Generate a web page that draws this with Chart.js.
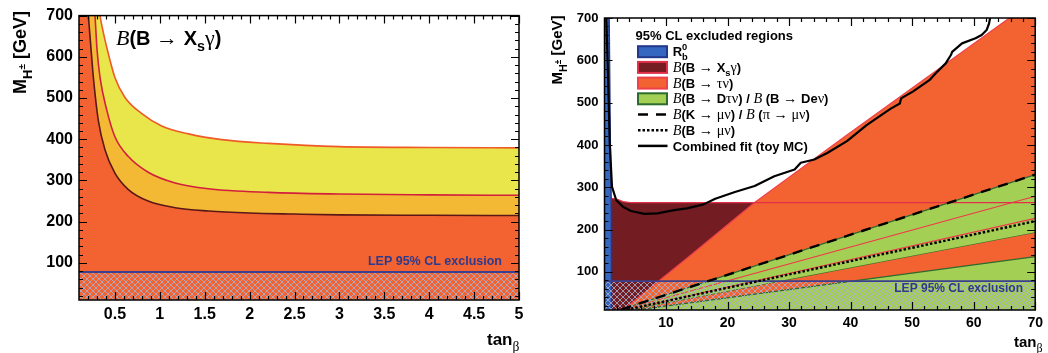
<!DOCTYPE html>
<html>
<head>
<meta charset="utf-8">
<script src="https://cdn.jsdelivr.net/npm/chart.js@4.4.1/dist/chart.umd.min.js"></script>
<style>
  html, body { margin: 0; padding: 0; background: #fff; }
  #wrap { position: relative; width: 1048px; height: 353px; overflow: hidden; }
  #left { position: absolute; left: 0; top: 0; }
  #right { position: absolute; left: 530px; top: 0; }
</style>
</head>
<body>
<div id="wrap">
  <canvas id="left" width="530" height="353"></canvas>
  <canvas id="right" width="518" height="353"></canvas>
</div>
<script>
// ---- left panel: B -> Xs gamma bands vs tan(beta) ----
const leftXTicks = [0.5, 1, 1.5, 2, 2.5, 3, 3.5, 4, 4.5, 5];
const leftXLabels = ["0.5", "1", "1.5", "2", "2.5", "3", "3.5", "4", "4.5", "5"];
const yTicks = [100, 200, 300, 400, 500, 600, 700];
const yLabels = ["100", "200", "300", "400", "500", "600", "700"];

const bandTopTb = [0.1, 0.3, 0.334, 0.37, 0.41, 0.5, 0.61, 0.8, 1.02, 1.32, 1.69, 2.21, 3, 4, 5];
const bandTopM = [800, 760, 700, 660, 622, 550, 502, 462, 432, 413, 399, 390, 382, 380, 379];
const bandMidTb = [0.1, 0.26, 0.278, 0.3, 0.334, 0.41, 0.5, 0.65, 0.87, 1.17, 1.54, 2.21, 3, 4, 5];
const bandMidM = [800, 740, 700, 620, 550, 470, 406, 358, 320, 294, 280, 271, 267, 265, 264];
const bandLowTb = [0.1, 0.19, 0.204, 0.23, 0.26, 0.315, 0.39, 0.5, 0.65, 0.87, 1.17, 1.54, 2, 2.5, 3, 4, 5];
const bandLowM = [800, 740, 700, 630, 550, 446, 374, 318, 278, 250, 234, 226, 221, 218.5, 216.5, 215.5, 215];

const lepLimit = 78;

// ---- right panel: combined exclusion regions ----
const rightXTicks = [10, 20, 30, 40, 50, 60, 70];
const rightXLabels = ["10", "20", "30", "40", "50", "60", "70"];

const rbTb = [0, 0.75, 0.95, 1.1, 1.15];
const rbM = [700, 700, 400, 250, 10];
const xsgTb = [1.1, 2, 3, 4.5, 70];
const xsgM = [274, 272, 266, 263.5, 263.5];
const taunuTb = [3.0, 13.7, 24.4, 39.4, 65.8, 70];
const taunuM = [10, 136, 264, 423.5, 700, 700];

// straight bands, given as M at tan(beta) = 0 and 70
const lineTb = [0, 70];
const kmunuM = [-1.5, 330];
const taunuInnerHiM = [-1, 279];
const taunuInnerLoM = [-1, 226.5];
const bmunuM = [-0.5, 220];
const dtaunuUpperLowM = [-0.6, 194];
const dtaunuLowerM = [0, 136];

const fitTb = [0.25, 0.3, 0.58, 0.85, 1.22, 1.9, 3.0, 4.3, 6.5, 8.6, 11.3, 13.4, 16.1, 18.0, 21.2, 24.4, 27.6, 30.9, 31.9, 34.1, 36.2, 39.4, 42.6, 45.8, 46.6, 48.0, 48.2, 50.1, 52.8, 53.8, 55.45, 56.3, 56.5, 58.1, 60.3, 61.3, 62.1, 62.5, 62.7];
const fitM = [720, 695, 561, 404, 301, 270, 254, 244, 237, 238.5, 246, 250, 259.6, 273, 288.7, 303, 326, 342, 358, 365.7, 381, 409, 447, 478.6, 486.4, 498, 510, 526, 553, 569, 592.8, 612.5, 620, 640, 652, 660, 671.5, 687, 703];

const SANS = "'Liberation Sans', Arial, sans-serif";
const SERIF = "'Liberation Serif', 'DejaVu Serif', serif";

const pts = (xs, ys) => xs.map((x, i) => ({ x, y: ys[i] }));

function hatchPattern(canvasId) {
  const c = document.createElement("canvas");
  c.width = c.height = 6;
  const g = c.getContext("2d");
  g.strokeStyle = "rgba(168,174,205,0.95)";
  g.lineWidth = 0.9;
  g.beginPath();
  g.moveTo(0, 0); g.lineTo(6, 6);
  g.moveTo(6, 0); g.lineTo(0, 6);
  g.stroke();
  return document.getElementById(canvasId).getContext("2d").createPattern(c, "repeat");
}

// draws a run of mixed-font pieces, returns total advance
function rich(ctx, x, y, parts, size, draw = true) {
  let cx = x;
  for (const [t, st] of parts) {
    let font, dy = 0, adv = true;
    switch (st) {
      case "i": font = `italic ${size * 1.1}px ${SERIF}`; break;
      case "s": font = `${size * 1.1}px ${SERIF}`; break;
      case "sub": font = `bold ${size * 0.72}px ${SANS}`; dy = size * 0.32; break;
      case "sup": font = `bold ${size * 0.72}px ${SANS}`; dy = -size * 0.45; adv = false; break;
      case "ssup": font = `bold ${size * 0.55}px ${SANS}`; dy = -size * 0.05; break;
      case "gsub": font = `${size * 0.8}px ${SERIF}`; dy = size * 0.35; break;
      default: font = `bold ${size}px ${SANS}`;
    }
    ctx.font = font;
    if (draw) ctx.fillText(t, cx, y + dy);
    if (adv) cx += ctx.measureText(t).width;
  }
  return cx - x;
}

// ROOT-style frame with inward ticks on all four sides
function frameAndTicks(chart, xMinor, yMinor) {
  const { ctx, chartArea: a, scales } = chart;
  const x = scales.x, y = scales.y;
  const xMaj = x.ticks.map(t => t.value);
  const yMaj = y.ticks.map(t => t.value);
  ctx.save();
  ctx.setLineDash([]);
  ctx.globalAlpha = 1;
  ctx.strokeStyle = "#000";
  ctx.lineWidth = 1.2;
  ctx.beginPath();
  for (let k = 1; k < 1000; k++) {
    const v = +(Math.ceil(x.min / xMinor - 1e-6) * xMinor + (k - 1) * xMinor).toFixed(4);
    if (v > x.max + 1e-6) break;
    if (v <= x.min + 1e-6) continue;
    const len = xMaj.some(m => Math.abs(m - v) < 1e-6) ? 8 : 4;
    const px = Math.round(x.getPixelForValue(v)) + 0.5;
    ctx.moveTo(px, a.bottom); ctx.lineTo(px, a.bottom - len);
    ctx.moveTo(px, a.top); ctx.lineTo(px, a.top + len);
  }
  for (let v = yMinor; v <= y.max; v += yMinor) {
    if (v <= y.min) continue;
    const len = yMaj.includes(v) ? 8 : 4;
    const py = Math.round(y.getPixelForValue(v)) + 0.5;
    ctx.moveTo(a.left, py); ctx.lineTo(a.left + len, py);
    ctx.moveTo(a.right, py); ctx.lineTo(a.right - len, py);
  }
  ctx.stroke();
  ctx.lineWidth = 1.5;
  ctx.strokeRect(a.left, a.top, a.right - a.left, a.bottom - a.top);
  ctx.restore();
}

function yTitle(ctx, cx, cy, size) {
  const parts = [["M", "b"], ["H", "sub"], ["\u00b1", "ssup"], [" [GeV]", "b"]];
  ctx.save();
  ctx.fillStyle = "#000";
  ctx.translate(cx, cy);
  ctx.rotate(-Math.PI / 2);
  const w = rich(ctx, 0, 0, parts, size, false);
  rich(ctx, -w / 2, 0, parts, size);
  ctx.restore();
}

function baseOptions(cfg) {
  return {
    responsive: false,
    animation: false,
    events: [],
    layout: { padding: cfg.padding },
    plugins: { legend: { display: false }, tooltip: { enabled: false } },
    elements: { point: { radius: 0 }, line: { borderJoinStyle: "round" } },
    scales: {
      x: {
        type: "linear", min: cfg.xMin, max: cfg.xMax,
        grid: { display: false, drawTicks: false }, border: { display: false },
        afterFit: s => { s.height = cfg.xHeight; },
        afterBuildTicks: s => { s.ticks = cfg.xTicks.map(v => ({ value: v })); },
        ticks: {
          autoSkip: false, maxRotation: 0, padding: cfg.xPad, color: "#000",
          font: { family: SANS, size: cfg.xFont, weight: "bold" },
          callback: (v, i) => cfg.xLabels[i]
        }
      },
      y: {
        type: "linear", min: 10, max: 700,
        grid: { display: false, drawTicks: false }, border: { display: false },
        afterFit: s => { s.width = cfg.yWidth; },
        afterBuildTicks: s => { s.ticks = yTicks.map(v => ({ value: v })); },
        ticks: {
          autoSkip: false, padding: 6, color: "#000",
          font: { family: SANS, size: cfg.yFont, weight: "bold" },
          callback: (v, i) => yLabels[i]
        }
      }
    }
  };
}

// datasets are listed bottom layer first; order is set so later ones paint on top
function layered(list) {
  return list.map((d, i) => Object.assign({ pointRadius: 0, borderWidth: 0, fill: false, order: 100 - i }, d));
}

// ---------- left chart ----------
const leftHatch = hatchPattern("left");
const leftOpts = baseOptions({
  padding: { left: 0, top: 13, right: 11, bottom: 0 },
  xMin: 0.1, xMax: 5, xTicks: leftXTicks, xLabels: leftXLabels,
  xHeight: 53, yWidth: 79, xPad: 5, xFont: 16, yFont: 16
});

new Chart(document.getElementById("left"), {
  type: "line",
  data: {
    datasets: layered([
      { data: pts(bandTopTb, bandTopM), backgroundColor: "#e9e64b", borderColor: "#ef5b26", borderWidth: 1.6, fill: "start", cubicInterpolationMode: "monotone" },
      { data: pts(bandMidTb, bandMidM), backgroundColor: "#f4b934", borderColor: "#d21f3e", borderWidth: 1.6, fill: "start", cubicInterpolationMode: "monotone" },
      { data: pts(bandLowTb, bandLowM), backgroundColor: "#f26331", borderColor: "#5a1818", borderWidth: 1.6, fill: "start", cubicInterpolationMode: "monotone" },
      { data: pts([0.1, 5], [lepLimit, lepLimit]), backgroundColor: leftHatch, borderColor: "#3a3f8f", borderWidth: 2, fill: "start" }
    ])
  },
  options: leftOpts,
  plugins: [{
    id: "decorLeft",
    afterDraw(chart) {
      const ctx = chart.ctx;
      frameAndTicks(chart, 0.1, 20);
      ctx.save();
      ctx.fillStyle = "#000";
      ctx.textBaseline = "alphabetic";
      rich(ctx, 116, 45, [["B", "i"], ["(B ", "b"], ["\u2192", "s"], [" X", "b"], ["s", "sub"], ["\u03b3", "s"], [")", "b"]], 20);
      rich(ctx, 487, 345, [["tan", "b"], ["\u03b2", "gsub"]], 17);
      ctx.fillStyle = "#2e3a8c";
      ctx.font = `bold 12.5px ${SANS}`;
      ctx.textAlign = "right";
      ctx.textBaseline = "middle";
      ctx.fillText("LEP 95% CL exclusion", 502, 261.5);
      ctx.restore();
      yTitle(ctx, 26, 52.5, 18);
    }
  }]
});

// ---------- right chart ----------
const rightHatch = hatchPattern("right");
const rightOpts = baseOptions({
  padding: { left: 0, top: 18, right: 7, bottom: 0 },
  xMin: 0, xMax: 70, xTicks: rightXTicks, xLabels: rightXLabels,
  xHeight: 43, yWidth: 74.5, xPad: 5, xFont: 14, yFont: 13
});

const legendRows = [
  { kind: "box", fill: "#3566c0", edge: "#23388a", text: [["R", "b"], ["0", "sup"], ["b", "sub"]] },
  { kind: "box", fill: "#731d22", edge: "#e2304a", text: [["B", "i"], ["(B ", "b"], ["\u2192", "s"], [" X", "b"], ["s", "sub"], ["\u03b3", "s"], [")", "b"]] },
  { kind: "box", fill: "#f26331", edge: "#f0404a", text: [["B", "i"], ["(B ", "b"], ["\u2192", "s"], [" ", "b"], ["\u03c4\u03bd", "s"], [")", "b"]] },
  { kind: "box", fill: "#a4cf55", edge: "#2e6b2e", text: [["B", "i"], ["(B ", "b"], ["\u2192", "s"], [" D", "b"], ["\u03c4\u03bd", "s"], [") / ", "b"], ["B", "i"], [" (B ", "b"], ["\u2192", "s"], [" De", "b"], ["\u03bd", "s"], [")", "b"]] },
  { kind: "line", dash: [10, 8], text: [["B", "i"], ["(K ", "b"], ["\u2192", "s"], [" ", "b"], ["\u03bc\u03bd", "s"], [") / ", "b"], ["B", "i"], [" (", "b"], ["\u03c0", "s"], [" ", "b"], ["\u2192", "s"], [" ", "b"], ["\u03bc\u03bd", "s"], [")", "b"]] },
  { kind: "line", dash: [2.5, 2], text: [["B", "i"], ["(B ", "b"], ["\u2192", "s"], [" ", "b"], ["\u03bc\u03bd", "s"], [")", "b"]] },
  { kind: "line", dash: [], text: [["Combined fit (toy MC)", "b"]] }
];

new Chart(document.getElementById("right"), {
  type: "line",
  data: {
    datasets: layered([
      { data: pts(xsgTb, xsgM), backgroundColor: "#731d22", fill: "start" },
      { data: pts(taunuTb, taunuM), backgroundColor: "#f26331", borderColor: "#f0404a", borderWidth: 1.2, fill: "start" },
      { data: pts(lineTb, dtaunuLowerM), backgroundColor: "#a4cf55", borderColor: "#2e6b2e", borderWidth: 1.3, fill: "start" },
      { data: pts(lineTb, dtaunuUpperLowM), borderColor: "#2e6b2e", borderWidth: 1.3 },
      { data: pts(lineTb, kmunuM), backgroundColor: "#a4cf55", borderColor: "#2e6b2e", borderWidth: 1.3, fill: 3 },
      { data: pts(lineTb, taunuInnerHiM), borderColor: "#ee3a48", borderWidth: 1.1 },
      { data: pts(lineTb, taunuInnerLoM), borderColor: "#ee3a48", borderWidth: 1.1 },
      { data: pts(xsgTb, xsgM), borderColor: "#e2304a", borderWidth: 1.2 },
      { data: pts(rbTb, rbM), backgroundColor: "#3566c0", borderColor: "#23388a", borderWidth: 1.5, fill: "start" },
      { data: pts([0, 70], [lepLimit, lepLimit]), backgroundColor: rightHatch, borderColor: "#3a3f8f", borderWidth: 1.8, fill: "start" },
      { data: pts(lineTb, bmunuM), borderColor: "#000", borderWidth: 2.4, borderDash: [2.5, 2] },
      { data: pts(lineTb, kmunuM), borderColor: "#000", borderWidth: 2.4, borderDash: [10, 8] },
      { data: pts(fitTb, fitM), borderColor: "#000", borderWidth: 2.2 }
    ])
  },
  options: rightOpts,
  plugins: [{
    id: "decorRight",
    afterDraw(chart) {
      const ctx = chart.ctx;
      frameAndTicks(chart, 2, 20);
      ctx.save();
      ctx.fillStyle = "#000";
      ctx.textBaseline = "alphabetic";
      ctx.font = `bold 13px ${SANS}`;
      ctx.fillText("95% CL excluded regions", 105.5, 40);
      legendRows.forEach((row, i) => {
        const cy = 51.7 + i * 15.7;
        if (row.kind === "box") {
          ctx.fillStyle = row.fill;
          ctx.fillRect(108, cy - 5.5, 29, 11);
          ctx.strokeStyle = row.edge;
          ctx.lineWidth = 2;
          ctx.strokeRect(108, cy - 5.5, 29, 11);
        } else {
          ctx.strokeStyle = "#000";
          ctx.lineWidth = 2.5;
          ctx.setLineDash(row.dash);
          ctx.beginPath();
          ctx.moveTo(108, cy); ctx.lineTo(137.5, cy);
          ctx.stroke();
          ctx.setLineDash([]);
        }
        ctx.fillStyle = "#000";
        rich(ctx, 142.7, cy + 4.6, row.text, 13);
      });
      rich(ctx, 484, 346.5, [["tan", "b"], ["\u03b2", "gsub"]], 15);
      ctx.fillStyle = "#2e3a8c";
      ctx.font = `bold 12px ${SANS}`;
      ctx.textAlign = "right";
      ctx.textBaseline = "middle";
      ctx.fillText("LEP 95% CL exclusion", 493, 288.3);
      ctx.restore();
      yTitle(ctx, 32, 50, 15);
    }
  }]
});
</script>
</body>
</html>
